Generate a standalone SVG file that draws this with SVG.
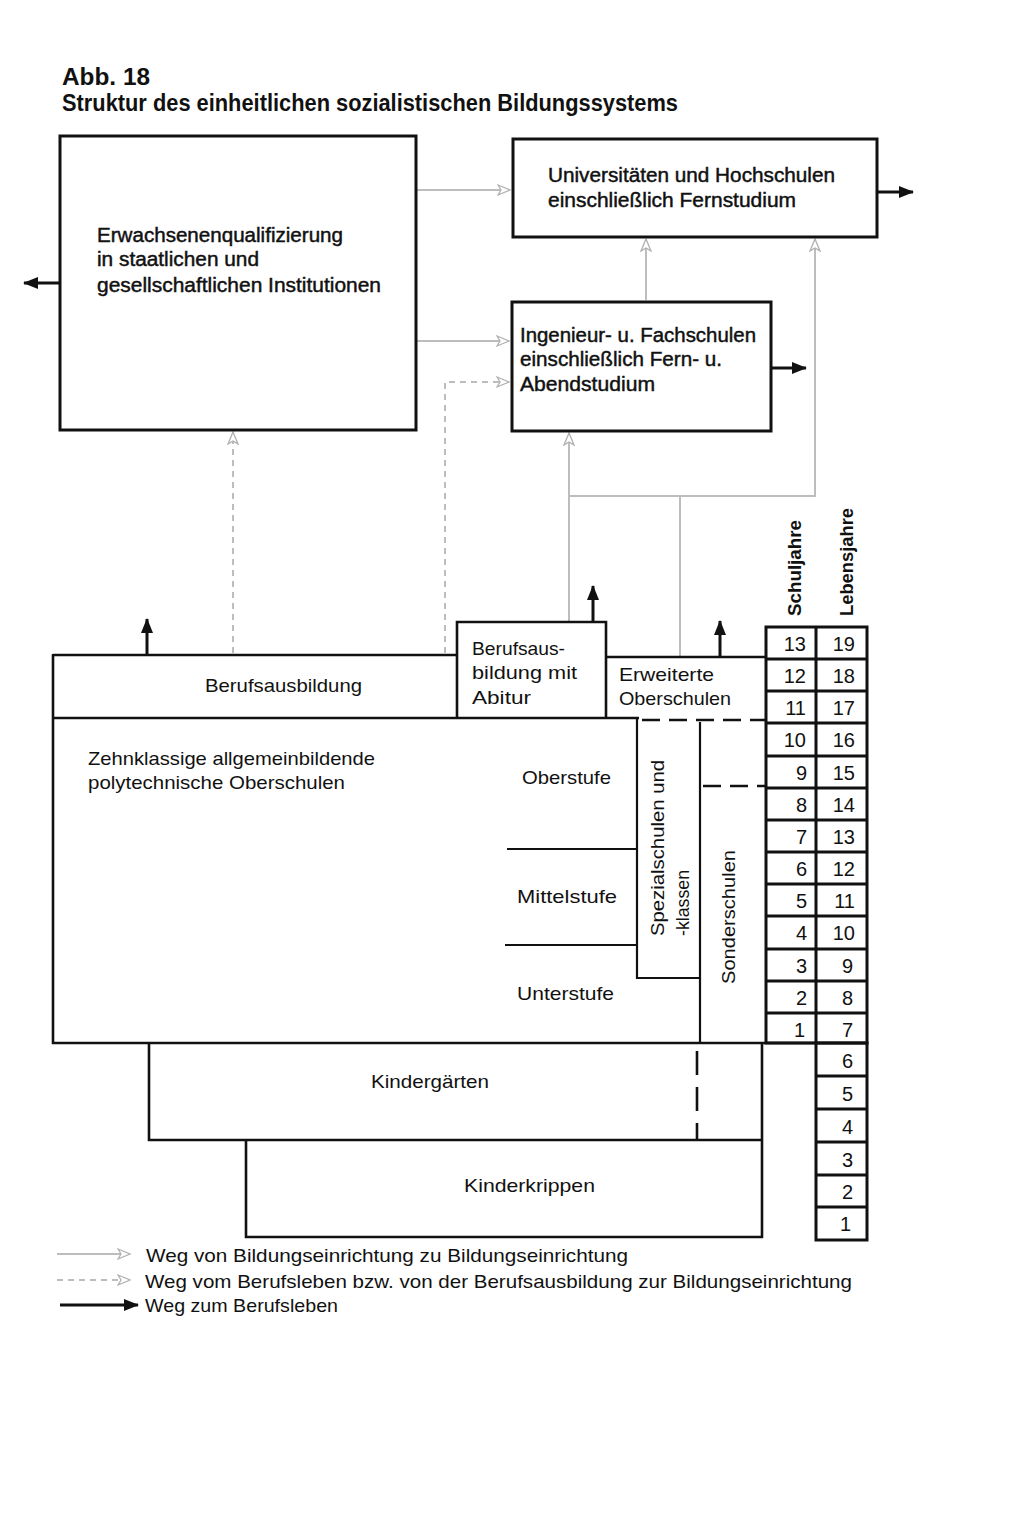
<svg xmlns="http://www.w3.org/2000/svg" width="1024" height="1519" viewBox="0 0 1024 1519">
<style>
.bg{fill:#ffffff}
.box{fill:none;stroke:#111;stroke-width:3}
.ln{fill:none;stroke:#111;stroke-width:2.6}
.thin{fill:none;stroke:#111;stroke-width:2.2}
.dsh{fill:none;stroke:#111;stroke-width:2.6;stroke-dasharray:18 9}
.t{font-family:"Liberation Sans",Arial,sans-serif;font-size:19px;fill:#111}
.tm{font-family:"Liberation Sans",Arial,sans-serif;font-size:20px;fill:#111;stroke:#111;stroke-width:0.45}
.tt{font-family:"Liberation Sans",Arial,sans-serif;font-weight:bold;font-size:23px;fill:#111}
.tr{font-family:"Liberation Sans",Arial,sans-serif;font-weight:bold;font-size:18px;fill:#111}
.num{font-family:"Liberation Sans",Arial,sans-serif;font-size:20px;fill:#111;text-anchor:end}
.g{fill:none;stroke:#bdbdbd;stroke-width:2}
.gd{fill:none;stroke:#bdbdbd;stroke-width:2;stroke-dasharray:6 5}
.k{fill:none;stroke:#111;stroke-width:3}
</style>
<defs>
<marker id="ka" markerUnits="userSpaceOnUse" markerWidth="16" markerHeight="14" refX="14" refY="7" orient="auto">
<path d="M0,1 L15,7 L0,13 z" fill="#111"/>
</marker>
<marker id="ga" markerUnits="userSpaceOnUse" markerWidth="16" markerHeight="14" refX="13" refY="7" orient="auto">
<path d="M1,2 L13,7 L1,12 L4,7 z" fill="#fff" stroke="#b0b0b0" stroke-width="1.3"/>
</marker>
</defs>
<rect class="bg" x="0" y="0" width="1024" height="1519"/>

<g id="title">
<text class="tt" x="62" y="85" textLength="88" lengthAdjust="spacingAndGlyphs">Abb. 18</text>
<text class="tt" x="62" y="111" textLength="616" lengthAdjust="spacingAndGlyphs">Struktur des einheitlichen sozialistischen Bildungssystems</text>
</g>

<g id="connectors">
<!-- gray solid: Bildungseinrichtung zu Bildungseinrichtung -->
<path class="g" d="M417,190 L510,190" marker-end="url(#ga)"/>
<path class="g" d="M417,341 L509,341" marker-end="url(#ga)"/>
<path class="g" d="M646,300 L646,239" marker-end="url(#ga)"/>
<path class="g" d="M569,621 L569,433" marker-end="url(#ga)"/>
<path class="g" d="M569,496 L815,496 L815,239" marker-end="url(#ga)"/>
<path class="g" d="M680,656 L680,496"/>
<!-- gray dashed: vom Berufsleben / Berufsausbildung -->
<path class="gd" d="M233,653 L233,432" marker-end="url(#ga)"/>
<path class="gd" d="M445,653 L445,382 L509,382" marker-end="url(#ga)"/>
<!-- black: Weg zum Berufsleben -->
<path class="k" d="M60,283 L24,283" marker-end="url(#ka)"/>
<path class="k" d="M877,192 L913,192" marker-end="url(#ka)"/>
<path class="k" d="M771,368 L806,368" marker-end="url(#ka)"/>
<path class="k" d="M147,655 L147,619" marker-end="url(#ka)"/>
<path class="k" d="M593,622 L593,586" marker-end="url(#ka)"/>
<path class="k" d="M720,657 L720,621" marker-end="url(#ka)"/>
</g>

<g id="n-erwachsenen">
<rect class="box" x="60" y="136" width="356" height="294"/>
<text class="tm" x="97" y="242" textLength="246" lengthAdjust="spacingAndGlyphs">Erwachsenenqualifizierung</text>
<text class="tm" x="97" y="266" textLength="162" lengthAdjust="spacingAndGlyphs">in staatlichen und</text>
<text class="tm" x="97" y="292" textLength="284" lengthAdjust="spacingAndGlyphs">gesellschaftlichen Institutionen</text>
</g>

<g id="n-universitaeten">
<rect class="box" x="513" y="139" width="364" height="98"/>
<text class="tm" x="548" y="182" textLength="287" lengthAdjust="spacingAndGlyphs">Universitäten und Hochschulen</text>
<text class="tm" x="548" y="207" textLength="248" lengthAdjust="spacingAndGlyphs">einschließlich Fernstudium</text>
</g>

<g id="n-ingenieur">
<rect class="box" x="512" y="302" width="259" height="129"/>
<text class="tm" x="520" y="342" textLength="236" lengthAdjust="spacingAndGlyphs">Ingenieur- u. Fachschulen</text>
<text class="tm" x="520" y="366" textLength="202" lengthAdjust="spacingAndGlyphs">einschließlich Fern- u.</text>
<text class="tm" x="520" y="391" textLength="135" lengthAdjust="spacingAndGlyphs">Abendstudium</text>
</g>

<g id="n-berufsausbildung">
<path class="ln" d="M53,655 L457,655"/>
<text class="t" x="205" y="692" textLength="157" lengthAdjust="spacingAndGlyphs">Berufsausbildung</text>
</g>

<g id="n-abitur">
<path class="ln" d="M457,718 L457,622 L606,622 L606,718"/>
<text class="t" x="472" y="655" textLength="93" lengthAdjust="spacingAndGlyphs">Berufsaus-</text>
<text class="t" x="472" y="679" textLength="105" lengthAdjust="spacingAndGlyphs">bildung mit</text>
<text class="t" x="472" y="704" textLength="59" lengthAdjust="spacingAndGlyphs">Abitur</text>
</g>

<g id="n-eos">
<path class="ln" d="M606,657 L766,657"/>
<path class="dsh" d="M642,720 L766,720"/>
<path class="dsh" d="M703,786 L766,786"/>
<text class="t" x="619" y="681" textLength="95" lengthAdjust="spacingAndGlyphs">Erweiterte</text>
<text class="t" x="619" y="705" textLength="112" lengthAdjust="spacingAndGlyphs">Oberschulen</text>
</g>

<g id="n-polytechnische">
<path class="ln" d="M53,718 L639,718"/>
<path class="ln" d="M53,654 L53,1043 L816,1043"/>
<path class="thin" d="M507,849 L637,849"/>
<path class="thin" d="M505,945 L637,945"/>
<text class="t" x="88" y="765" textLength="287" lengthAdjust="spacingAndGlyphs">Zehnklassige allgemeinbildende</text>
<text class="t" x="88" y="789" textLength="257" lengthAdjust="spacingAndGlyphs">polytechnische Oberschulen</text>
<text class="t" x="522" y="784" textLength="89" lengthAdjust="spacingAndGlyphs">Oberstufe</text>
<text class="t" x="517" y="903" textLength="100" lengthAdjust="spacingAndGlyphs">Mittelstufe</text>
<text class="t" x="517" y="1000" textLength="97" lengthAdjust="spacingAndGlyphs">Unterstufe</text>
</g>

<g id="n-spezialschulen">
<path class="thin" d="M637,718 L637,978 L700,978"/>
<text class="t" transform="translate(664,936) rotate(-90)" textLength="176" lengthAdjust="spacingAndGlyphs">Spezialschulen und</text>
<text class="t" transform="translate(689,936) rotate(-90)" textLength="66" lengthAdjust="spacingAndGlyphs">-klassen</text>
</g>

<g id="n-sonderschulen">
<path class="thin" d="M700,722 L700,1043"/>
<path class="dsh" d="M697,1051 L697,1140" style="stroke-dasharray:24 12"/>
<text class="t" transform="translate(735,984) rotate(-90)" textLength="134" lengthAdjust="spacingAndGlyphs">Sonderschulen</text>
</g>

<g id="n-kindergaerten">
<path class="ln" d="M149,1043 L149,1140 L762,1140"/>
<path class="ln" d="M762,1043 L762,1238"/>
<text class="t" x="371" y="1088" textLength="118" lengthAdjust="spacingAndGlyphs">Kindergärten</text>
</g>

<g id="n-kinderkrippen">
<path class="ln" d="M246,1140 L246,1237 L763,1237"/>
<text class="t" x="464" y="1192" textLength="131" lengthAdjust="spacingAndGlyphs">Kinderkrippen</text>
</g>

<g id="n-jahre">
<text class="tr" transform="translate(801,616) rotate(-90)" textLength="96" lengthAdjust="spacingAndGlyphs">Schuljahre</text>
<text class="tr" transform="translate(853,616) rotate(-90)" textLength="108" lengthAdjust="spacingAndGlyphs">Lebensjahre</text>
<rect class="box" x="766" y="627" width="101" height="416"/>
<path class="box" d="M816,627 L816,1043"/>
<path class="box" d="M766,659 H867 M766,691 H867 M766,723 H867 M766,756 H867 M766,788 H867 M766,820 H867 M766,852 H867 M766,884 H867 M766,916 H867 M766,949 H867 M766,981 H867 M766,1013 H867"/>
<rect class="box" x="816" y="1043" width="51" height="197"/>
<path class="box" d="M816,1076 H867 M816,1109 H867 M816,1142 H867 M816,1175 H867 M816,1207 H867"/>
<text class="num" x="806" y="651">13</text>
<text class="num" x="806" y="683">12</text>
<text class="num" x="806" y="715">11</text>
<text class="num" x="806" y="747">10</text>
<text class="num" x="807" y="780">9</text>
<text class="num" x="807" y="812">8</text>
<text class="num" x="807" y="844">7</text>
<text class="num" x="807" y="876">6</text>
<text class="num" x="807" y="908">5</text>
<text class="num" x="807" y="940">4</text>
<text class="num" x="807" y="973">3</text>
<text class="num" x="807" y="1005">2</text>
<text class="num" x="805" y="1037">1</text>
<text class="num" x="855" y="651">19</text>
<text class="num" x="855" y="683">18</text>
<text class="num" x="855" y="715">17</text>
<text class="num" x="855" y="747">16</text>
<text class="num" x="855" y="780">15</text>
<text class="num" x="855" y="812">14</text>
<text class="num" x="855" y="844">13</text>
<text class="num" x="855" y="876">12</text>
<text class="num" x="855" y="908">11</text>
<text class="num" x="855" y="940">10</text>
<text class="num" x="853" y="973">9</text>
<text class="num" x="853" y="1005">8</text>
<text class="num" x="853" y="1037">7</text>
<text class="num" x="853" y="1068">6</text>
<text class="num" x="853" y="1101">5</text>
<text class="num" x="853" y="1134">4</text>
<text class="num" x="853" y="1167">3</text>
<text class="num" x="853" y="1199">2</text>
<text class="num" x="851" y="1231">1</text>
</g>

<g id="legend">
<path class="g" d="M57,1254 L130,1254" marker-end="url(#ga)"/>
<path class="gd" d="M57,1280 L130,1280" marker-end="url(#ga)"/>
<path class="k" d="M60,1305 L138,1305" marker-end="url(#ka)"/>
<text class="t" x="146" y="1262" textLength="482" lengthAdjust="spacingAndGlyphs">Weg von Bildungseinrichtung zu Bildungseinrichtung</text>
<text class="t" x="145" y="1288" textLength="707" lengthAdjust="spacingAndGlyphs">Weg vom Berufsleben bzw. von der Berufsausbildung zur Bildungseinrichtung</text>
<text class="t" x="145" y="1312" textLength="193" lengthAdjust="spacingAndGlyphs">Weg zum Berufsleben</text>
</g>
</svg>
